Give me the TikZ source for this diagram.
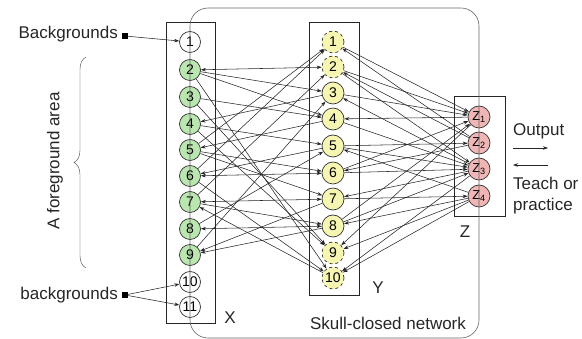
\documentclass[tikz,border=0pt]{standalone}
\usepackage{fontspec}
\setmainfont{Liberation Sans}
\usetikzlibrary{arrows.meta,decorations.pathreplacing}

\definecolor{xgreen}{RGB}{186,230,176}
\definecolor{yyellow}{RGB}{246,246,178}
\definecolor{zpink}{RGB}{240,182,182}

\tikzset{
  unit/.style={circle,draw=black!80,line width=0.7pt,minimum size=21pt,inner sep=0pt,
    font=\fontsize{14}{14}\selectfont},
  bgnode/.style={unit,fill=white},
  xnode/.style={unit,fill=xgreen},
  ynode/.style={unit,fill=yyellow,minimum size=22pt},
  ydash/.style={ynode,dashed},
  znode/.style={unit,fill=zpink,minimum size=22pt,font=\fontsize{13}{13}\selectfont},
  layerbox/.style={draw=black!85,line width=0.6pt},
  link/.style={-{Stealth[length=5pt,width=3.5pt]},draw=black!85,line width=0.55pt},
  dlink/.style={{Stealth[length=5pt,width=3.5pt]}-{Stealth[length=5pt,width=3.5pt]},draw=black!85,line width=0.55pt},
  txt/.style={font=\fontsize{17}{21}\selectfont,text=black!85,inner sep=0pt},
  marker/.style={fill=black,inner sep=0pt,minimum size=6pt}
}

\begin{document}
\begin{tikzpicture}[x=1pt,y=-1pt]
\useasboundingbox (0,0) rectangle (582,339);

% layer boxes
\draw[layerbox] (166,22) rectangle (215,323);
\draw[layerbox] (309,22) rectangle (359,295);
\draw[layerbox] (454,96) rectangle (505,216);

% input layer X
\draw (190,42) node[bgnode](x1) {1};
\draw (190,70) node[xnode](x2) {2};
\draw (190,97) node[xnode](x3) {3};
\draw (190,124) node[xnode](x4) {4};
\draw (190,150) node[xnode](x5) {5};
\draw (190,176) node[xnode](x6) {6};
\draw (190,202) node[xnode](x7) {7};
\draw (190,229) node[xnode](x8) {8};
\draw (190,255) node[xnode](x9) {9};
\draw (190,282) node[bgnode](x10) {10};
\draw (190,307) node[bgnode](x11) {11};

% hidden layer Y
\draw (333,42) node[ydash](y1) {1};
\draw (333,67) node[ydash](y2) {2};
\draw (333,93) node[ynode](y3) {3};
\draw (333,119) node[ynode](y4) {4};
\draw (333,146) node[ynode](y5) {5};
\draw (333,173) node[ynode](y6) {6};
\draw (333,199) node[ynode](y7) {7};
\draw (333,226) node[ynode](y8) {8};
\draw (333,253) node[ydash](y9) {9};
\draw (333,278) node[ydash](y10) {10};

% output layer Z
\draw (479,117) node[znode](z1) {Z\textsubscript{1}};
\draw (479,143) node[znode](z2) {Z\textsubscript{2}};
\draw (479,169) node[znode](z3) {Z\textsubscript{3}};
\draw (479,196) node[znode](z4) {Z\textsubscript{4}};

% backgrounds
\draw (118,34) node[txt,anchor=east](bgtop) {Backgrounds};
\draw (125,36) node[marker](mtop) {};
\draw (118,295) node[txt,anchor=east](bgbot) {backgrounds};
\draw (125,295) node[marker](mbot) {};
\draw[link] (mtop) -- (x1);
\draw[link] (mbot) -- (x10);
\draw[link] (mbot) -- (x11);

% foreground brace
\draw[black!75,decorate,decoration={brace,amplitude=12pt}] (86,268) -- (86,57);
\draw (55,161) node[txt,rotate=90](fg) {A foreground area};

% X to Y
\draw[dlink] (x2) -- (y2);
\draw[dlink] (x6) -- (y6);
\draw[dlink] (x7) -- (y7);
\draw[dlink] (x8) -- (y8);
\draw[link] (x2) -- (y3);
\draw[link] (x2) -- (y4);
\draw[link] (x2) -- (y10);
\draw[link] (x3) -- (y4);
\draw[link] (x3) -- (y9);
\draw[link] (x4) -- (y5);
\draw[link] (x4) -- (y9);
\draw[link] (x5) -- (y1);
\draw[link] (x5) -- (y6);
\draw[link] (x5) -- (y7);
\draw[link] (x6) -- (y1);
\draw[link] (x6) -- (y10);
\draw[link] (x7) -- (y2);
\draw[link] (x7) -- (y8);
\draw[link] (x8) -- (y5);
\draw[link] (x9) -- (y3);
\draw[link] (y3) -- (x4);
\draw[link] (y4) -- (x5);
\draw[link] (y5) -- (x6);
\draw[link] (y7) -- (x9);
\draw[link] (y8) -- (x9);
\draw[link] (y10) -- (x7);

% Y to Z
\draw[link] (y1) -- (z1);
\draw[link] (y2) -- (z1);
\draw[link] (y2) -- (z3);
\draw[link] (y3) -- (z1);
\draw[link] (y4) -- (z3);
\draw[link] (y5) -- (z2);
\draw[link] (y5) -- (z3);
\draw[link] (y6) -- (z1);
\draw[link] (y6) -- (z3);
\draw[link] (y7) -- (z4);
\draw[link] (y8) -- (z1);
\draw[link] (y8) -- (z3);
\draw[link] (z2) -- (y1);
\draw[link] (z2) -- (y2);
\draw[link] (z3) -- (y3);
\draw[link] (z1) -- (y4);
\draw[link] (z4) -- (y5);
\draw[link] (z2) -- (y6);
\draw[link] (z3) -- (y7);
\draw[link] (z4) -- (y8);
\draw[link] (z1) -- (y9);
\draw[link] (z4) -- (y9);
\draw[link] (z3) -- (y10);
\draw[link] (z4) -- (y10);

% skull-closed network outline
\draw[black!60,line width=0.6pt,rounded corners=18pt] (190,8) rectangle (479,338);

% layer names
\draw (230,318) node[txt](xname) {X};
\draw (378,288) node[txt](yname) {Y};
\draw (465,232) node[txt](zname) {Z};
\draw (388,323) node[txt](net) {Skull-closed network};

% output and teaching
\draw (513,131) node[txt,anchor=west](out) {Output};
\coordinate (o1) at (513,148);
\coordinate (o2) at (548,148);
\draw[link] (o1) -- (o2);
\coordinate (t1) at (548,165);
\coordinate (t2) at (513,165);
\draw[link] (t1) -- (t2);
\draw (513,196) node[txt,anchor=west,align=left](teach) {Teach or\\practice};
\end{tikzpicture}
\end{document}
